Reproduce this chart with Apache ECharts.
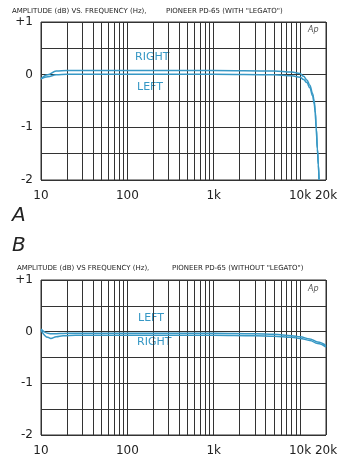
<!DOCTYPE html>
<html>
<head>
<meta charset="utf-8">
<script src="https://cdn.jsdelivr.net/npm/echarts@6/dist/echarts.min.js"></script>
<style>
  html, body { margin: 0; padding: 0; background: #fff; }
  #chart { width: 352px; height: 462px; }
</style>
</head>
<body>
<div id="chart"></div>
<script>
// chart A: with "LEGATO"
const freqA  = [10, 12, 15, 20, 50, 100, 1000, 5000, 8000, 10000, 11000, 12000, 13000, 14000, 14600, 15000, 15400, 15900, 16300, 16600];
const rightA = [-0.08, 0.0, 0.07, 0.08, 0.08, 0.08, 0.08, 0.07, 0.05, 0.02, -0.03, -0.1, -0.2, -0.36, -0.5, -0.68, -1.0, -1.4, -1.7, -1.98];
const leftA  = [-0.08, -0.04, 0.0, 0.01, 0.01, 0.01, 0.01, 0.0, -0.02, -0.05, -0.09, -0.15, -0.25, -0.4, -0.55, -0.72, -1.02, -1.42, -1.72, -2.0];

// chart B: without "LEGATO"
const freqB  = [10, 12, 13, 15, 18, 25, 50, 100, 1000, 3000, 5000, 8000, 10000, 13000, 16000, 20000];
const leftB  = [0.05, -0.03, -0.04, -0.04, -0.035, -0.03, -0.03, -0.03, -0.03, -0.04, -0.05, -0.08, -0.1, -0.14, -0.2, -0.27];
const rightB = [0.03, -0.11, -0.13, -0.1, -0.08, -0.07, -0.07, -0.07, -0.07, -0.08, -0.09, -0.11, -0.13, -0.17, -0.23, -0.3];

// log paper lines and labels
const gridFreqs = [10, 20, 30, 40, 50, 60, 70, 80, 90, 100, 200, 300, 400, 500, 600, 700, 800, 900,
  1000, 2000, 3000, 4000, 5000, 6000, 7000, 8000, 9000, 10000, 20000];
const labelFreqs = [10, 100, 1000, 10000, 20000];

const lineColor = '#3798c5';
const gridColor = '#333';

const toXY = (freqs, vals) => freqs.map((f, i) => [Math.log10(f), vals[i]]);

const fmtFreq = v => {
  const f = Math.round(Math.pow(10, v));
  return f >= 1000 ? (f / 1000) + 'k' : String(f);
};

const chart = echarts.init(document.getElementById('chart'));

const makeX = (idx) => ({
  type: 'value',
  gridIndex: idx,
  min: 1,
  max: Math.log10(20000),
  axisLine: { show: false },
  axisTick: { show: false, customValues: gridFreqs.map(f => Math.log10(f)) },
  splitLine: { show: true, lineStyle: { color: gridColor, width: 1 } },
  axisLabel: {
    customValues: labelFreqs.map(f => Math.log10(f)),
    formatter: fmtFreq,
    color: '#222',
    fontSize: 12,
    fontFamily: 'DejaVu Sans',
    margin: 10,
    showMinLabel: true,
    showMaxLabel: true
  }
});

const makeY = (idx) => ({
  type: 'value',
  gridIndex: idx,
  min: -2,
  max: 1,
  interval: 0.5,
  axisLine: { show: false },
  axisTick: { show: false },
  splitLine: { show: true, lineStyle: { color: gridColor, width: 1 } },
  axisLabel: {
    formatter: v => (v % 1 === 0 ? (v > 0 ? '+' + v : String(v)) : ''),
    color: '#222',
    fontSize: 12,
    fontFamily: 'DejaVu Sans',
    margin: 8
  }
});

const makeLine = (name, data, idx) => ({
  name: name,
  type: 'line',
  xAxisIndex: idx,
  yAxisIndex: idx,
  data: data,
  smooth: 0.4,
  smoothMonotone: 'x',
  showSymbol: false,
  lineStyle: { color: lineColor, width: 1.5 },
  z: 5
});

const txt = (x, y, text, size, opts) => ({
  type: 'text',
  left: x,
  top: y,
  style: Object.assign({
    text: text,
    fill: '#222',
    font: size + 'px "DejaVu Sans"'
  }, opts || {})
});

chart.setOption({
  animation: false,
  backgroundColor: '#fff',
  grid: [
    { left: 41, top: 22, width: 285, height: 158, show: true, borderColor: gridColor, borderWidth: 1 },
    { left: 41, top: 280, width: 285, height: 155, show: true, borderColor: gridColor, borderWidth: 1 }
  ],
  xAxis: [makeX(0), makeX(1)],
  yAxis: [makeY(0), makeY(1)],
  series: [
    makeLine('RIGHT A', toXY(freqA, rightA), 0),
    makeLine('LEFT A', toXY(freqA, leftA), 0),
    makeLine('LEFT B', toXY(freqB, leftB), 1),
    makeLine('RIGHT B', toXY(freqB, rightB), 1)
  ],
  graphic: [
    txt(12, 8, 'AMPLITUDE (dB) VS. FREQUENCY (Hz),', 7),
    txt(166, 8, 'PIONEER PD-65 (WITH "LEGATO")', 7),
    txt(17, 265, 'AMPLITUDE (dB) VS FREQUENCY (Hz),', 7),
    txt(172, 265, 'PIONEER PD-65 (WITHOUT "LEGATO")', 7),
    txt(308, 26, 'Ap', 8, { font: 'italic 8px "DejaVu Sans"', fill: '#555' }),
    txt(308, 285, 'Ap', 8, { font: 'italic 8px "DejaVu Sans"', fill: '#555' }),
    txt(135, 52, 'RIGHT', 11, { fill: lineColor }),
    txt(137, 82, 'LEFT', 11, { fill: lineColor }),
    txt(138, 313, 'LEFT', 11, { fill: lineColor }),
    txt(137, 337, 'RIGHT', 11, { fill: lineColor }),
    txt(12, 206, 'A', 20, { font: 'italic 20px "DejaVu Sans"', fill: '#222' }),
    txt(12, 236, 'B', 20, { font: 'italic 20px "DejaVu Sans"', fill: '#222' })
  ]
});
</script>
</body>
</html>
